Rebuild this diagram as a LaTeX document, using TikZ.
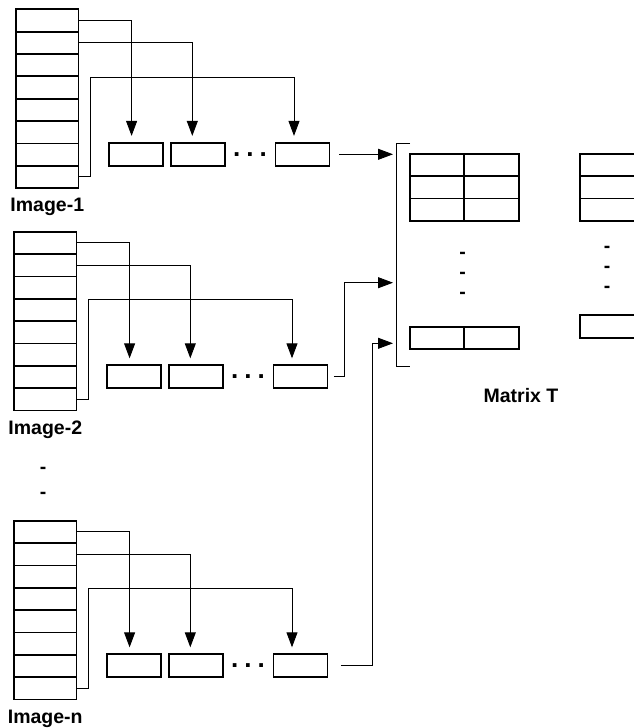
\documentclass[tikz,border=0pt]{standalone}
\usepackage{fontspec}
\setmainfont{Liberation Sans}
\usetikzlibrary{arrows.meta, calc}

\begin{document}
\begin{tikzpicture}[x=1pt, y=-1pt,
  cell/.style={draw, line width=1.8pt, inner sep=0pt, minimum width=62.5pt, minimum height=22.35pt},
  sbox/.style={draw, line width=1.8pt, inner sep=0pt, minimum width=54pt, minimum height=23pt},
  mcell/.style={draw, line width=1.8pt, inner sep=0pt, minimum width=54.4pt, minimum height=22.2pt},
  link/.style={line width=0.9pt},
  arr/.style={link, -{Triangle[length=15pt, width=11pt]}},
  lbl/.style={font=\fontsize{19.5}{23}\selectfont\bfseries, inner sep=0pt},
  hy/.style={lbl, anchor=base, yshift=-5.5pt}]
\useasboundingbox (0,0) rectangle (634,728);
\clip (0,0) rectangle (634,728);

\foreach \g/\x/\y in {1/16/9.3, 2/14/231.7, n/14/520.7} {
  \foreach \k in {1,...,8}
    \node[cell] (img\g c\k) at (\x+31.25, \y+22.35*\k-11.175) {};
  \node[sbox] (img\g b1) at (\x+120, \y+145) {};
  \node[sbox] (img\g b2) at (\x+181.7, \y+145) {};
  \node[sbox] (img\g b3) at (\x+286.4, \y+145) {};
  \node[lbl, anchor=base] (img\g l) at ([yshift=-22.7pt]img\g c8.south) {Image-\g};
  \node[lbl, anchor=base, font=\fontsize{26}{26}\selectfont\bfseries] (img\g d)
    at ($(img\g b2.east)!0.5!(img\g b3.west)+(0,1.8)$) {.\hspace{6pt}.\hspace{6pt}.};
  \coordinate (img\g t3) at ([xshift=19.5pt]img\g b3.north west);
  \draw[arr, shorten >=6pt] (img\g c1.east) -| ([xshift=23.5pt]img\g b1.north west);
  \draw[arr, shorten >=6pt] (img\g c2.east) -| ([xshift=22.5pt]img\g b2.north west);
  \draw[arr, shorten >=6pt] (img\g c8.east) -- ++(10.8,0) |- (img\g c3.south -| img\g t3) -- (img\g t3);
}
\node[hy] (v1) at (43, 467.7) {-};
\node[hy] (v2) at (43, 493.3) {-};

% matrix T
\coordinate (bt) at (396, 143.3);
\coordinate (bb) at (396, 366);
\draw[link] ([xshift=14pt]bt) -- (bt) -- (bb) -- ([xshift=14pt]bb);
\foreach \r in {1,2,3} {
  \foreach \c in {1,2}
    \node[mcell] (ta\r\c) at (382.6+54.4*\c, 142.9+22.2*\r) {};
  \node[mcell, minimum width=70pt] (tb\r) at (615, 142.9+22.2*\r) {};
}
\node[mcell] (tal1) at (437, 338) {};
\node[mcell] (tal2) at (491.4, 338) {};
\node[mcell, minimum width=70pt, minimum height=23.3pt] (tbl) at (615, 326.6) {};
\foreach \i/\v in {1/253.3, 2/273.3, 3/293.3}
  \node[hy] (da\i) at (462.7, \v) {-};
\foreach \i/\v in {1/246.7, 2/266.7, 3/286.7}
  \node[hy] (db\i) at (607, \v) {-};
\node[lbl, anchor=base] (mt) at (521, 402.3) {Matrix T};

\coordinate (in1) at (396, 154.3);
\coordinate (in2) at (396, 282.7);
\coordinate (in3) at (396, 343.3);
\draw[arr, shorten >=3pt] ([xshift=9pt]img1b3.east) -- (in1);
\draw[arr, shorten >=3pt] ([xshift=5.5pt]img2b3.east) -- ++(10.5,0) |- (in2);
\draw[arr, shorten >=3pt] ([xshift=12.5pt]imgnb3.east) -- ++(31.7,0) |- (in3);
\end{tikzpicture}
\end{document}
